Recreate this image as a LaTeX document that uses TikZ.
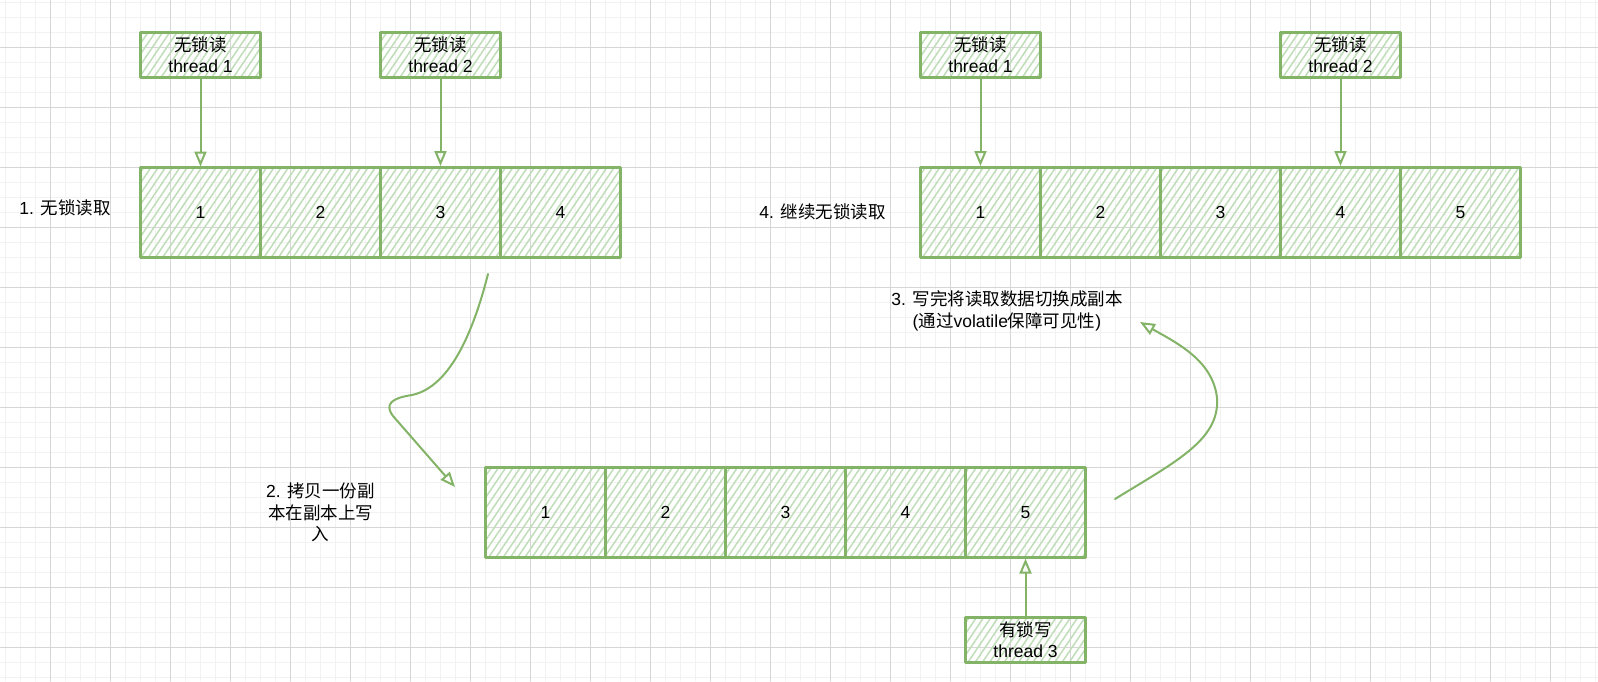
\documentclass[tikz,border=0pt]{standalone}
\usepackage{fontspec}
\setmainfont{Liberation Sans}
\newfontfamily\cjk{Noto Sans CJK SC}
\usetikzlibrary{arrows.meta,patterns.meta}

\definecolor{sketchgreen}{HTML}{82B366}
\definecolor{hatchgreen}{HTML}{BFDDB8}
\definecolor{gridmajor}{HTML}{D6D6D6}
\definecolor{gridminor}{HTML}{F2F2F2}

\tikzset{
  cell/.style={draw=sketchgreen, line width=2.6pt,
    pattern={Lines[angle=56,distance=6pt,line width=1.5pt]}, pattern color=hatchgreen,
    minimum width=120pt, minimum height=90pt, inner sep=0pt,
    font=\fontsize{17.5}{21}\selectfont},
  thread/.style={cell, minimum height=45pt, align=center},
  note/.style={align=center, inner sep=0pt, font=\fontsize{17.5}{21.5}\selectfont},
  link/.style={draw=sketchgreen, line width=2pt, -{Triangle[open,length=15pt,width=12pt]}},
}

\begin{document}
\begin{tikzpicture}[x=1pt, y=-1pt, line cap=round, line join=round]

  %% grid
  \foreach \i in {0,...,106}
    \draw[gridminor, line width=1pt] ({5.5+15*\i},0) -- ({5.5+15*\i},681);
  \foreach \j in {0,...,45}
    \draw[gridminor, line width=1pt] (0,{2.3+15*\j}) -- (1598,{2.3+15*\j});
  \foreach \i in {0,...,25}
    \draw[gridmajor, line width=1pt] ({50.5+60*\i},0) -- ({50.5+60*\i},681);
  \foreach \j in {0,...,10}
    \draw[gridmajor, line width=1pt] (0,{47.3+60*\j}) -- (1598,{47.3+60*\j});

  %% 1. read without lock
  \foreach \n in {1,...,4}
    \node[cell] (l\n) at ({80.5+120*\n},212.3) {\n};
  \node[thread] (lt1) at (200.5,54.8) {{\cjk 无锁读}\\thread 1};
  \node[thread] (lt2) at (440.5,54.8) {{\cjk 无锁读}\\thread 2};
  \draw[link] (lt1) -- (l1);
  \draw[link] (lt2) -- (l3);
  \node[note] (step1) at (65,208) {1. {\cjk 无锁读取}};

  %% 2. copy and write
  \foreach \n in {1,...,5}
    \node[cell] (b\n) at ({425.5+120*\n},512.3) {\n};
  \node[thread] (bt3) at (1025.5,639.8) {{\cjk 有锁写}\\thread 3};
  \draw[link] (bt3) -- (b5);
  \node[note] (step2) at (320.5,512.3) {2. {\cjk 拷贝一份副}\\{\cjk 本在副本上写}\\{\cjk 入}};

  %% 4. keep reading
  \foreach \n in {1,...,5}
    \node[cell] (r\n) at ({860.5+120*\n},212.3) {\n};
  \node[thread] (rt1) at (980.5,54.8) {{\cjk 无锁读}\\thread 1};
  \node[thread] (rt2) at (1340.5,54.8) {{\cjk 无锁读}\\thread 2};
  \draw[link] (rt1) -- (r1);
  \draw[link] (rt2) -- (r4);
  \node[note] (step4) at (822.5,212.3) {4. {\cjk 继续无锁读取}};

  %% 3. switch to the copy
  \node[note] (step3) at (1007,311) {3. {\cjk 写完将读取数据切换成副本}\\({\cjk 通过}volatile{\cjk 保障可见性})};

  %% curved links
  \coordinate (copyfrom) at (488,274);
  \coordinate (copyto) at (455,487);
  \coordinate (swapfrom) at (1115,499);
  \coordinate (swapto) at (1140,322);
  \draw[link] (copyfrom) .. controls (470,345) and (445,388) .. (412,395)
    .. controls (392,398) and (384,404) .. (393,416) -- (copyto);
  \draw[link] (swapfrom) .. controls (1175,462) and (1220,440) .. (1217,398)
    .. controls (1213,360) and (1175,342) .. (swapto);

  \pgfresetboundingbox
  \path[use as bounding box] (0,0) rectangle (1598,681);
\end{tikzpicture}
\end{document}
